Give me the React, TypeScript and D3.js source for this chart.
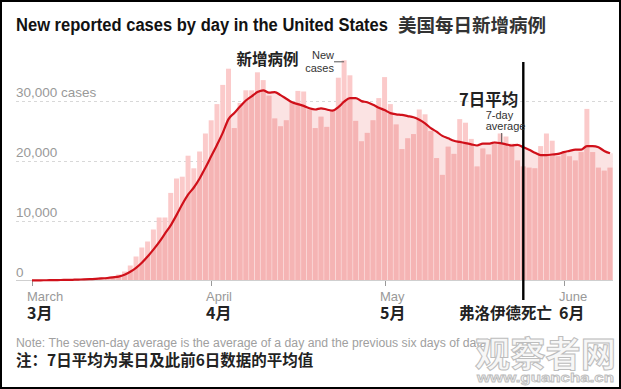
import React from 'react';
import * as d3 from 'd3';

const START_DATE = '2020-03-01';
const dailyCases = [
  10, 20, 30, 30, 60, 70, 100, 110, 190, 200,
  300, 400, 520, 580, 700, 1000, 1500, 2500, 4000, 5500,
  6500, 8500, 10500, 10500, 14600, 17000, 17300, 20800, 18700, 21500,
  24500, 26700, 29400, 32600, 35300, 25400, 29600, 31700, 31700, 34700,
  33400, 30800, 27000, 25700, 26700, 29700, 31600, 31500, 28500, 25400,
  27300, 25600, 28500, 33800, 36700, 34200, 26600, 23200, 24600, 26700,
  30400, 33900, 29400, 26000, 21900, 23700, 24400, 28500, 27700, 24900,
  20400, 17600, 22300, 21100, 26900, 26300, 23600, 19000, 22000, 21000,
  23200, 24500, 24000, 22800, 20000, 19000, 18800, 18700, 22400, 24500,
  23300, 20700, 21400, 20700, 20000, 21400, 28600, 21400, 18800, 18300,
  18800,
];
const sevenDayAvg = [
  20, 30, 40, 50, 60, 80, 100, 120, 150, 180,
  220, 280, 350, 420, 520, 650, 950, 1450, 2100, 2950,
  4000, 5150, 6400, 7800, 9200, 10900, 12700, 14300, 15500, 17000,
  18800, 20700, 22600, 24600, 26900, 27900, 29000, 30000, 30700, 31400,
  31700, 31300, 31400, 30900, 30300, 29700, 29400, 29100, 28700, 28500,
  28700, 28500, 28300, 28900, 29800, 30400, 30400, 29900, 29700, 29300,
  28800, 28400, 27900, 27700, 27600, 27400, 27200, 26800, 26200, 25400,
  24800, 24100, 23700, 23300, 23100, 22900, 22700, 22500, 22800, 22800,
  23000, 22900, 22700, 22500, 22600, 22200, 21800, 21300, 20900, 20900,
  21000, 21100, 21400, 21600, 21800, 21800, 22400, 22400, 22200, 21600,
  21200,
];
const yTickValues = [0, 10000, 20000, 30000];
const yTickLabels = ['0', '10,000', '20,000', '30,000 cases'];
const monthTickDates = ['2020-03-01', '2020-04-01', '2020-05-01', '2020-06-01'];
const monthLabelsEn = ['March', 'April', 'May', 'June'];
const monthLabelsZh = ['3月', '4月', '5月', '6月'];
const floydDate = '2020-05-25';
const peakAnnotDate = '2020-04-24';
const avgAnnotDate = '2020-05-21';

const W = 621;
const H = 389;
const EN = "'Liberation Sans', Arial, sans-serif";
const ZH = "'Noto Sans CJK SC', 'Noto Sans CJK JP', sans-serif";

const parse = (s: string) => new Date(s + 'T00:00:00Z');

export default function App() {
  const start = parse(START_DATE);
  const data = dailyCases.map((v, i) => ({
    date: d3.utcDay.offset(start, i),
    cases: v,
    avg: sevenDayAvg[i],
  }));
  const last = data[data.length - 1].date;

  const x = d3.scaleUtc().domain([start, last]).range([32, 610]);
  const y = d3.scaleLinear().domain([0, 30000]).range([280.5, 100.5]);
  const step = x(d3.utcDay.offset(start, 1)) - x(start);
  const barW = step * 0.86;

  const ext = [
    { date: new Date(start.getTime() - 12 * 3600e3), avg: data[0].avg },
    ...data,
    { date: new Date(last.getTime() + 12 * 3600e3), avg: data[data.length - 1].avg },
  ];
  const area = d3
    .area<any>()
    .x((d) => x(d.date))
    .y0(y(0))
    .y1((d) => y(d.avg))
    .curve(d3.curveMonotoneX);
  const line = d3
    .line<any>()
    .x((d) => x(d.date))
    .y((d) => y(d.avg))
    .curve(d3.curveMonotoneX);

  const areaPath = area(ext) || '';
  const linePath = line(data) || '';
  const floydX = x(parse(floydDate));
  const peakX = x(parse(peakAnnotDate));
  const avgX = x(parse(avgAnnotDate));
  const avgY = y(sevenDayAvg[d3.utcDay.count(start, parse(avgAnnotDate))]);
  const peakY = y(dailyCases[d3.utcDay.count(start, parse(peakAnnotDate))]);

  return (
    <svg
      width={W}
      height={H}
      style={{ position: 'absolute', left: 0, top: 0, background: '#fff' }}
    >
      <defs>
        <clipPath id="under">
          <path d={areaPath} />
        </clipPath>
      </defs>
      <rect x={1} y={1} width={W - 2} height={H - 2} fill="#fff" stroke="#000" strokeWidth={2} />

      {/* title */}
      <text
        x={16}
        y={31}
        fontFamily={EN}
        fontWeight={700}
        fontSize={17.5}
        fill="#121212"
        textLength={372}
        lengthAdjust="spacingAndGlyphs"
      >
        New reported cases by day in the United States
      </text>
      <text x={398} y={31.5} fontFamily={ZH} fontWeight={700} fontSize={18.5} fill="#333">
        美国每日新增病例
      </text>

      {/* gridlines */}
      {yTickValues.slice(1).map((v) => (
        <line
          key={v}
          x1={16}
          x2={615}
          y1={Math.round(y(v)) + 0.5}
          y2={Math.round(y(v)) + 0.5}
          stroke="#d8d8d8"
          strokeDasharray="3,3"
        />
      ))}

      {/* area under 7-day average */}
      <path d={areaPath} fill="#fbe3e3" />

      {/* bars */}
      <g>
        {data.map((d, i) => (
          <rect
            key={i}
            x={x(d.date) - barW / 2}
            y={y(d.cases)}
            width={barW}
            height={y(0) - y(d.cases)}
            fill="#fbcaca"
          />
        ))}
      </g>
      <g clipPath="url(#under)">
        {data.map((d, i) => (
          <rect
            key={i}
            x={x(d.date) - barW / 2}
            y={y(d.cases)}
            width={barW}
            height={y(0) - y(d.cases)}
            fill="#f5b4b4"
          />
        ))}
      </g>

      {/* y labels */}
      {yTickValues.map((v, i) => (
        <text key={v} x={16} y={y(v) - 4} fontFamily={EN} fontSize={13.5} fill="#999">
          {yTickLabels[i]}
        </text>
      ))}

      {/* baseline */}
      <line x1={16} x2={613} y1={280.5} y2={280.5} stroke="#cfcfcf" />
      {monthTickDates.map((m, i) => {
        const mx = Math.round(x(parse(m))) + 0.5;
        return (
          <g key={m}>
            <line x1={mx} x2={mx} y1={281} y2={286} stroke="#999" />
            <text x={mx - 5.5} y={301} fontFamily={EN} fontSize={13} fill="#999">
              {monthLabelsEn[i]}
            </text>
            <text x={mx - 5.5} y={319} fontFamily={ZH} fontWeight={700} fontSize={16} fill="#222">
              {monthLabelsZh[i]}
            </text>
          </g>
        );
      })}

      {/* 7-day average line */}
      <path d={linePath} fill="none" stroke="#d0101a" strokeWidth={2.2} strokeLinejoin="round" />

      {/* Floyd line */}
      <line x1={floydX} x2={floydX} y1={62} y2={300} stroke="#000" strokeWidth={2.4} />
      <text x={459} y={319} fontFamily={ZH} fontWeight={700} fontSize={15.5} fill="#222">
        弗洛伊德死亡
      </text>

      {/* annotations */}
      <text x={236.5} y={65} fontFamily={ZH} fontWeight={700} fontSize={15.5} fill="#222">
        新增病例
      </text>
      <text x={334} y={59} textAnchor="end" fontFamily={EN} fontSize={11} fill="#333">
        New
      </text>
      <text x={334} y={71.5} textAnchor="end" fontFamily={EN} fontSize={11} fill="#333">
        cases
      </text>
      <line x1={334} x2={peakX} y1={peakY + 1.5} y2={peakY + 1.5} stroke="#555" strokeWidth={1} />

      <text x={459} y={106} fontFamily={ZH} fontWeight={700} fontSize={16.5} fill="#222">
        7日平均
      </text>
      <text x={485.7} y={118.5} fontFamily={EN} fontSize={11} fill="#333">
        7-day
      </text>
      <text x={485.7} y={130} fontFamily={EN} fontSize={11} fill="#333">
        average
      </text>
      <line x1={avgX + 1.5} x2={avgX + 1.5} y1={133} y2={avgY} stroke="#555" strokeWidth={1} />

      {/* notes */}
      <text
        x={16}
        y={347}
        fontFamily={EN}
        fontSize={12}
        fill="#a0a0a0"
        textLength={474}
        lengthAdjust="spacingAndGlyphs"
      >
        Note: The seven-day average is the average of a day and the previous six days of data.
      </text>
      <text x={16} y={366} fontFamily={ZH} fontWeight={700} fontSize={15.5} fill="#222">
        注：7日平均为某日及此前6日数据的平均值
      </text>

      {/* watermark */}
      <text
        x={475}
        y={367}
        fontFamily={ZH}
        fontWeight={700}
        fontSize={35}
        fill="#f7f7f7"
        stroke="#bdbdbd"
        strokeWidth={1}
        textLength={141}
        lengthAdjust="spacingAndGlyphs"
      >
        观察者网
      </text>
      <text
        x={477}
        y={381.5}
        fontFamily={EN}
        fontWeight={700}
        fontSize={13}
        fill="#f7f7f7"
        stroke="#bdbdbd"
        strokeWidth={0.8}
        textLength={137}
        lengthAdjust="spacingAndGlyphs"
      >
        www.guancha.cn
      </text>
    </svg>
  );
}
